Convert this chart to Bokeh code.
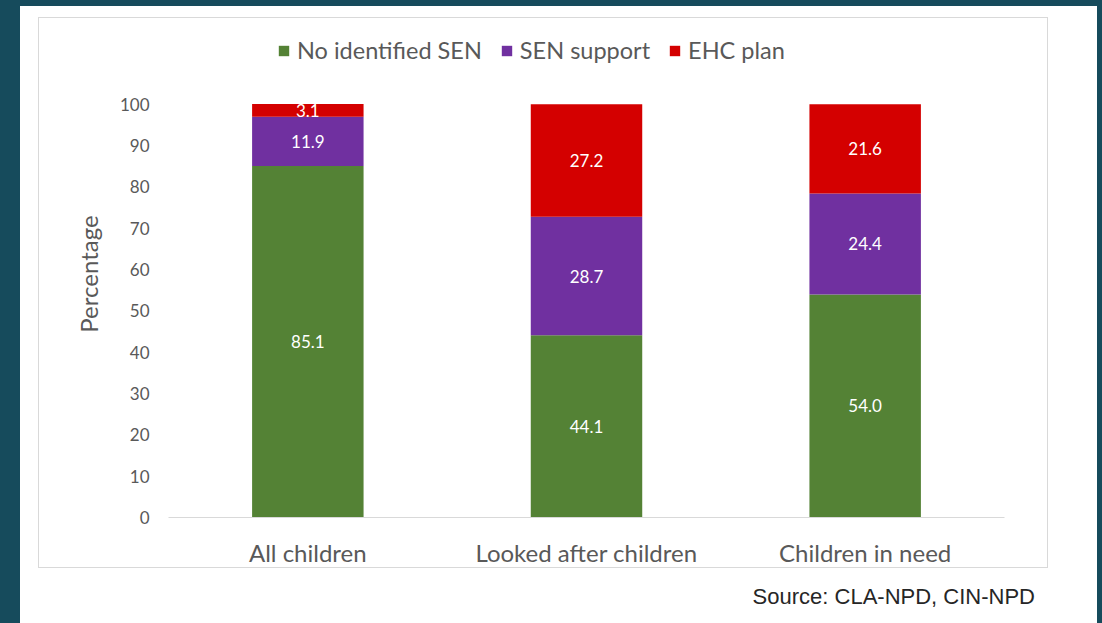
from bokeh.plotting import figure
from bokeh.layouts import column
from bokeh.models import (ColumnDataSource, FactorRange, FixedTicker, Legend, LegendItem,
                          LabelSet, Div)
from bokeh.core.properties import value
from bokeh.embed import file_html
from bokeh.resources import INLINE

categories = ["All children", "Looked after children", "Children in need"]
series = ["No identified SEN", "SEN support", "EHC plan"]
no_sen = [85.1, 44.1, 54.0]
sen_support = [11.9, 28.7, 24.4]
ehc_plan = [3.1, 27.2, 21.6]
y_ticks = [0, 10, 20, 30, 40, 50, 60, 70, 80, 90, 100]
colors = ["#548235", "#7030A0", "#D40000"]
source_text = "Source: CLA-NPD, CIN-NPD"

TEAL = "#164B5C"
FONT = "Lato"
GREY = "#595959"

src = ColumnDataSource(dict(cat=categories, no_sen=no_sen, sen_support=sen_support, ehc_plan=ehc_plan))

# y range extends above 100 to leave room for the legend inside the plot area
p = figure(width=1008, height=549, x_range=FactorRange(*categories, range_padding=0, factor_padding=0),
           y_range=(0, 117.87), output_backend="svg", toolbar_location=None,
           min_border_left=129, min_border_right=45, min_border_top=12, min_border_bottom=49)
p.styles = {"border": "1px solid #D9D9D9", "box-sizing": "content-box"}
p.background_fill_color = "white"
p.border_fill_color = "white"
p.outline_line_color = None
p.xgrid.visible = False
p.ygrid.visible = False

renderers = p.vbar_stack(["no_sen", "sen_support", "ehc_plan"], x="cat", width=0.4, source=src,
                         color=colors, line_color=None)

# segment labels (midpoints of each stacked segment)
cum = [0.0, 0.0, 0.0]
lx, ly, lt = [], [], []
for vals in (no_sen, sen_support, ehc_plan):
    for i, v in enumerate(vals):
        lx.append(categories[i])
        ly.append(cum[i] + v / 2)
        lt.append(f"{v:.1f}")
        cum[i] += v
lsrc = ColumnDataSource(dict(x=lx, y=ly, t=lt))
p.add_layout(LabelSet(x="x", y="y", text="t", source=lsrc, text_color="white", text_font=value(FONT),
                      text_font_size=value("17px"), text_align="center", text_baseline="middle"))

# axes
p.yaxis.ticker = FixedTicker(ticks=y_ticks)
p.yaxis.axis_line_color = None
p.yaxis.major_tick_line_color = None
p.yaxis.minor_tick_line_color = None
p.yaxis.major_label_text_font = FONT
p.yaxis.major_label_text_font_size = "17px"
p.yaxis.major_label_text_color = GREY
p.yaxis.major_label_standoff = 13
p.yaxis.axis_label = "Percentage"
p.yaxis.axis_label_text_font = FONT
p.yaxis.axis_label_text_font_size = "24px"
p.yaxis.axis_label_text_font_style = "normal"
p.yaxis.axis_label_text_color = GREY
p.yaxis.axis_label_standoff = 14

p.xaxis.axis_line_color = "#D9D9D9"
p.xaxis.major_tick_line_color = None
p.xaxis.minor_tick_line_color = None
p.xaxis.major_label_text_font = FONT
p.xaxis.major_label_text_font_size = "24px"
p.xaxis.major_label_text_color = GREY
p.xaxis.major_label_standoff = 14

legend = Legend(items=[LegendItem(label=s, renderers=[r]) for s, r in zip(series, renderers)],
                orientation="horizontal", location=(109, 453), border_line_color=None,
                background_fill_alpha=0, glyph_width=13, glyph_height=13, label_standoff=7,
                spacing=18, padding=0, margin=0, label_height=26,
                label_text_font=FONT, label_text_font_size="23.5px", label_text_color=GREY)
p.add_layout(legend, "center")

note = Div(text=source_text, width=992, height=55,
           styles={"font-family": "Liberation Sans, Arial, sans-serif", "font-size": "22px",
                   "color": "#262626", "text-align": "right", "line-height": "48px"})

inner = column(p, note, styles={"background-color": "white", "padding": "11px 49px 0px 18px",
                                "box-sizing": "content-box"})
outer = column(inner, styles={"background-color": TEAL, "padding": "6px 5px 0px 20px",
                              "box-sizing": "content-box"})

open("out.html", "w").write(file_html(outer, INLINE))
